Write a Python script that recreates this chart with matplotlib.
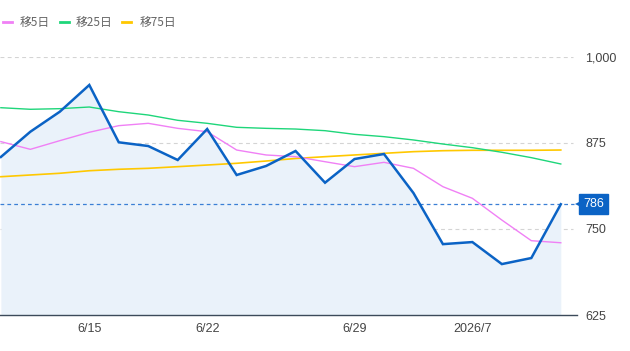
import matplotlib
matplotlib.use("Agg")
import matplotlib.pyplot as plt
from matplotlib.lines import Line2D
import numpy as np

plt.rcParams['font.family'] = ['Noto Sans CJK JP', 'DejaVu Sans']

price = [854.7, 891.4, 920.5, 959.3, 876.0, 870.6, 850.3, 895.3, 828.5, 841.6,
         863.4, 817.3, 851.7, 859.0, 802.3, 728.0, 731.0, 699.0, 707.8, 786.0]
ma5 = [877.0, 865.8, 878.4, 890.6, 900.2, 903.6, 896.3, 891.4, 864.8, 857.6,
       855.1, 847.8, 840.6, 846.9, 838.2, 811.5, 794.6, 763.0, 733.0, 730.0]
ma25 = [926.3, 924.0, 924.9, 927.3, 920.5, 915.7, 908.0, 903.6, 897.8, 896.3,
        895.3, 892.9, 887.6, 884.2, 879.4, 873.5, 868.2, 861.5, 853.7, 844.5]
ma75 = [826.0, 828.5, 831.0, 834.7, 836.8, 838.2, 840.6, 843.0, 845.5, 848.8,
        852.5, 855.1, 857.6, 860.0, 862.4, 863.8, 864.4, 864.4, 864.4, 864.8]
tick_idx = [3, 7, 12, 16]
tick_labels = ["6/15", "6/22", "6/29", "2026/7"]
y_ticks = [625, 750, 875, 1000]
legend_labels = ["移5日", "移25日", "移75日"]
last_value = 786

c_price = "#0b63c5"
c_fill = "#eaf2fa"
c_ma5 = "#f080f5"
c_ma25 = "#1ed67a"
c_ma75 = "#ffc800"
num_font = ['Liberation Sans', 'DejaVu Sans']

W, H = 630, 351
fig = plt.figure(figsize=(W / 100, H / 100), dpi=100)
ax = fig.add_axes([0 / W, (H - 315) / H, 577 / W, (315 - 57) / H])

x = np.arange(len(price))
ax.fill_between(x, price, 625, color=c_fill, lw=0, zorder=1)
for yv in [750, 875, 1000]:
    ax.plot([-0.03, 19.4], [yv, yv], color="#d4d4d4", lw=0.8, ls=(0, (3.5, 3)), zorder=0)
ax.plot([-0.03, 19.45], [last_value, last_value], color="#3a7fd5", lw=0.9,
        ls=(0, (3, 2.5)), zorder=2)
ax.plot(x, ma75, color=c_ma75, lw=1.2, zorder=3)
ax.plot(x, ma25, color=c_ma25, lw=1.0, zorder=3)
ax.plot(x, ma5, color=c_ma5, lw=1.0, zorder=3)
ax.plot(x, price, color=c_price, lw=1.8, zorder=4, solid_joinstyle="miter")

ax.set_xlim(-0.03, 19.55)
ax.set_ylim(625, 1000)
for s in ["top", "left", "right"]:
    ax.spines[s].set_visible(False)
ax.spines["bottom"].set_color("#3c4a5a")
ax.spines["bottom"].set_linewidth(1.0)

ax.set_xticks(tick_idx)
ax.set_xticklabels(tick_labels, family=num_font)
ax.yaxis.tick_right()
ax.set_yticks(y_ticks)
ax.set_yticklabels([f"{v:,}" for v in y_ticks], family=num_font)
ax.tick_params(axis="both", length=0, labelsize=9, labelcolor="#444444")
ax.tick_params(axis="y", pad=6)
ax.tick_params(axis="x", pad=6)

# last value label: box with small left notch
tr = ax.get_yaxis_transform()
ax.text(1.0105, last_value, f"{last_value}", transform=tr,
        ha="left", va="center", color="white", fontsize=9, family=num_font,
        bbox=dict(boxstyle="square,pad=0.3", fc=c_price, ec=c_price), zorder=5,
        clip_on=False)
ax.plot([1.0025], [last_value], marker="<", ms=5, color=c_price, transform=tr,
        clip_on=False, zorder=5, mew=0)

# legend
leg_items = [(3, 20, c_ma5), (60, 76, c_ma25), (122, 140, c_ma75)]
yl = 1 - 22 / H
for (lx, tx, col), lab in zip(leg_items, legend_labels):
    fig.add_artist(Line2D([lx / W, (lx + 9) / W], [yl, yl], color=col, lw=2,
                          transform=fig.transFigure))
    fig.text(tx / W, yl, lab, ha="left", va="center", fontsize=8.5, color="#666666")

fig.savefig("out.png", dpi=100)
